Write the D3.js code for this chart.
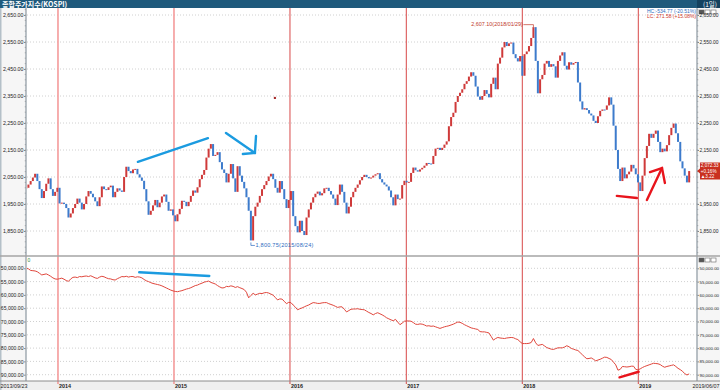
<!DOCTYPE html>
<html>
<head>
<meta charset="utf-8">
<script src="https://cdn.jsdelivr.net/npm/d3@7"></script>
<style>
body { margin: 0; background: #fff; }
svg { display: block; font-family: "Liberation Sans", Arial, sans-serif; }
</style>
</head>
<body>
<svg id="chart" width="720" height="390"></svg>
<script>
// weekly closes, KOSPI (first week 2013/09/23)
var startDate = "2013-09-23", endDate = "2019-06-07";
var kospi = [
  2010,2022,2035,2048,2062,2035,2005,1972,1998,2025,
  2045,2005,1980,1995,2010,1952,1955,1950,1935,1900,
  1915,1935,1950,1970,1955,1930,1950,1978,1998,1988,
  1975,1960,1942,1975,2015,2005,2002,2012,2018,1975,
  1995,2008,2000,1995,2050,2088,2072,2064,2078,2080,
  2060,2048,2036,2005,1960,1910,1925,1945,1965,1938,
  1955,1978,1985,1958,1925,1930,1908,1886,1912,1932,
  1962,1958,1942,1958,1980,2000,1992,2012,2042,2058,
  2076,2122,2155,2172,2128,2132,2142,2105,2078,2065,
  2030,2062,2098,2045,1995,2090,2055,2032,2008,1975,
  1925,1815,1905,1940,1955,1980,2005,2020,2035,2052,
  2062,2042,2010,1992,2035,2005,1968,1935,1965,1998,
  1905,1868,1845,1888,1850,1835,1900,1930,1955,1975,
  1988,1996,1982,1990,2008,2010,1998,1985,1970,1946,
  1985,2022,1995,1955,1915,1940,1975,1995,2010,2022,
  2038,2050,2058,2050,2045,2048,2055,2060,2064,2042,
  2030,2022,2015,2000,1975,1945,1985,1968,1970,2020,
  2036,2030,2032,2065,2085,2075,2070,2078,2084,2092,
  2102,2100,2098,2128,2155,2158,2150,2158,2170,2182,
  2238,2272,2288,2328,2350,2362,2375,2395,2405,2422,
  2438,2425,2385,2348,2336,2350,2372,2358,2345,2395,
  2418,2375,2470,2492,2530,2550,2535,2545,2548,2505,
  2490,2478,2498,2425,2505,2515,2535,2565,2605,2480,
  2360,2412,2428,2470,2480,2458,2468,2460,2418,2480,
  2500,2512,2462,2448,2475,2466,2472,2476,2400,2330,
  2300,2305,2298,2285,2278,2258,2250,2275,2295,2300,
  2299,2315,2345,2318,2240,2150,2080,2035,2085,2045,
  2060,2070,2095,2082,2060,2030,1998,2055,2120,2165,
  2210,2195,2210,2222,2180,2142,2155,2145,2168,2205,
  2232,2248,2212,2180,2108,2082,2055,2030,2072
];
// lower panel, thousands, same weeks (axis runs downward: 50,000 at top)
var flowK = [
  50.0,50.2,50.8,50.9,51.0,51.3,51.9,52.5,52.3,52.1,
  52.5,53.0,53.6,54.0,54.1,53.9,53.7,54.1,54.6,54.9,
  54.0,53.4,53.3,53.5,53.1,53.2,53.0,52.9,53.1,52.8,
  53.2,53.6,53.8,53.3,53.0,53.2,53.6,53.9,54.0,54.3,
  54.4,53.9,53.5,53.1,53.2,53.0,53.3,53.1,53.1,53.4,
  53.2,53.3,53.6,54.2,54.7,55.0,55.4,55.7,55.9,56.1,
  56.3,56.6,57.0,57.4,57.8,58.2,58.5,58.7,58.8,58.6,
  58.4,58.1,57.8,57.6,57.3,56.9,56.5,56.3,55.9,55.6,
  55.2,55.0,54.8,55.3,55.6,55.9,56.5,57.0,57.4,57.3,
  56.8,56.9,56.6,56.8,57.2,56.9,57.3,57.6,58.0,59.0,
  61.1,60.2,59.4,60.0,59.7,59.4,59.5,59.2,59.1,59.3,
  59.7,60.1,61.0,61.9,61.5,61.6,62.4,63.3,62.8,62.9,
  63.8,64.6,65.6,65.2,64.9,64.5,64.1,63.8,63.3,62.9,
  63.0,63.2,63.2,63.0,62.9,62.9,63.3,63.6,63.9,64.3,
  64.7,64.5,64.5,65.4,66.4,65.9,65.4,65.3,65.3,65.2,
  65.4,65.5,65.6,66.1,66.6,67.0,67.5,67.0,66.7,67.1,
  67.5,68.0,68.6,69.0,69.4,69.7,69.2,70.2,71.2,70.6,
  69.9,69.8,69.8,69.9,70.4,71.0,71.1,70.9,71.0,71.3,
  71.7,71.6,71.8,71.7,72.0,72.3,72.6,72.3,72.0,71.8,
  71.6,71.3,71.0,70.6,70.2,70.3,70.7,71.2,71.6,72.0,
  72.4,72.6,72.8,73.0,73.8,73.9,73.9,74.1,74.3,75.6,
  77.0,76.4,76.0,76.2,76.3,76.4,76.2,76.1,76.0,76.1,
  76.5,76.8,77.6,78.3,78.3,78.3,78.2,77.9,76.4,78.0,
  79.0,78.8,78.6,79.2,79.8,80.1,80.4,80.5,80.2,79.9,
  79.9,79.9,79.6,79.1,79.5,80.1,80.4,80.7,80.9,81.7,
  82.5,83.3,84.0,83.9,83.7,84.2,84.8,84.5,84.2,83.8,
  83.4,83.5,83.9,84.3,85.3,86.3,88.3,88.0,86.9,87.0,
  87.1,87.0,86.8,86.8,88.0,88.2,87.8,87.3,86.9,86.6,
  86.3,86.0,85.7,85.8,85.9,86.2,86.8,87.2,86.9,86.7,
  86.5,86.3,86.9,87.6,88.1,88.7,89.6,90.1,89.7
];
var years = ["2014", "2015", "2016", "2017", "2018", "2019"];
var priceTicks = [1850, 1950, 2050, 2150, 2250, 2350, 2450, 2550, 2650];
var flowTicks = [50, 55, 60, 65, 70, 75, 80, 85, 90];

var title = "종합주가지수(KOSPI)", period = "(1일)";
var hiLabel = "2,607.10(2018/01/29)", loLabel = "1,800.75(2015/08/24)";
var hcText = "HC:-534.77 (-20.51%)", lcText = "LC: 271.58 (+15.08%)";
var tagLines = ["2,072.33", "+0.16%", "▲3.22"];

// hand drawn marks on the chart, [week, value]
var blueTrendTop = [[50.2, 2106], [81.7, 2194]];
var blueArrow = [[89.8, 2213], [102.8, 2139]];
var blueArrowHead = [[103.3, 2202], [102.8, 2139], [97.4, 2135]];
var redTrendTop = [[265.5, 1980], [274.5, 1972]];
var redArrow = [[279.0, 1965], [285.8, 2083]];
var redArrowHead = [[280.4, 2068], [285.8, 2083], [287.1, 2028]];
var blueTrendLow = [[50.8, 51.5], [82.3, 52.9]];
var redTrendLow = [[266.7, 91.0], [275.3, 88.9]];
var strayDot = [111.8, 2343];

var svg = d3.select("#chart");
var plotL = 26, plotR = 697, topY0 = 8, topY1 = 256, botY0 = 257, botY1 = 381;

var parse = d3.timeParse("%Y-%m-%d");
var start = parse(startDate), end = parse(endDate);
var dates = kospi.map(function(d, i) { return d3.timeDay.offset(start, i * 7); });

var x = d3.scaleTime().domain([start, end]).range([26.2, 688.2]);
var yP = d3.scaleLinear().domain([1850, 2650]).range([231, 15]);
var yF = d3.scaleLinear().domain([50, 90]).range([268.3, 374.7]);
var xw = function(w) { return x(new Date(start.getTime() + w * 7 * 864e5)); };

var fmt = d3.format(",.2f");
var lastY = yP(kospi[kospi.length - 1]);

// backgrounds
svg.append("rect").attr("width", 720).attr("height", 390).attr("fill", "#fff");
svg.append("rect").attr("x", 0).attr("y", 0).attr("width", plotL).attr("height", 390).attr("fill", "#f6f6f6");
svg.append("rect").attr("x", plotR).attr("y", 0).attr("width", 720 - plotR).attr("height", 390).attr("fill", "#f6f6f6");
svg.append("rect").attr("x", 0).attr("y", botY1).attr("width", 720).attr("height", 390 - botY1).attr("fill", "#efefef");
svg.append("rect").attr("x", 0).attr("y", 0).attr("width", 1.5).attr("height", 390).attr("fill", "#b4c0c8");

// title bar
svg.append("rect").attr("width", 720).attr("height", topY0).attr("fill", "#1f5a7c");
svg.append("rect").attr("x", plotR).attr("width", 720 - plotR).attr("height", topY0).attr("fill", "#14425f");
svg.append("text").attr("x", 2).attr("y", 6.6).attr("fill", "#fff")
    .attr("font-size", "7px").attr("font-weight", "bold")
    .attr("font-family", "'Noto Sans CJK KR', sans-serif").text(title);
svg.append("text").attr("x", 703).attr("y", 6.6).attr("fill", "#fff")
    .attr("font-size", "6.5px").attr("font-family", "'Noto Sans CJK KR', sans-serif").text(period);

// small toolbar squares on the right strip
[10, 258].forEach(function(ty) {
    [699, 705, 711].forEach(function(tx, k) {
        svg.append("rect").attr("x", tx).attr("y", ty).attr("width", 5).attr("height", 4)
            .attr("fill", k == 0 ? "#555" : "#fff").attr("stroke", "#666").attr("stroke-width", 0.6);
    });
});

var defs = svg.append("defs");
defs.append("clipPath").attr("id", "clipTop").append("rect")
    .attr("x", plotL + 1).attr("y", topY0).attr("width", plotR - plotL - 1).attr("height", topY1 - topY0);
defs.append("clipPath").attr("id", "clipBot").append("rect")
    .attr("x", plotL + 1).attr("y", botY0).attr("width", plotR - plotL - 1).attr("height", botY1 - botY0);

// gridlines
var grid = svg.append("g").attr("stroke", "#c4c4c4").attr("stroke-dasharray", "1,2").attr("stroke-width", 0.8);
grid.selectAll("line.p").data(priceTicks).join("line")
    .attr("x1", plotL + 1).attr("x2", plotR).attr("y1", function(d) { return yP(d); }).attr("y2", function(d) { return yP(d); });
grid.selectAll("line.f").data(flowTicks).join("line")
    .attr("x1", plotL + 1).attr("x2", plotR).attr("y1", function(d) { return yF(d); }).attr("y2", function(d) { return yF(d); });

// year separators
var yearDates = years.map(function(y) { return parse(y + "-01-01"); });
svg.append("g").selectAll("line").data(yearDates).join("line")
    .attr("x1", function(d) { return x(d); }).attr("x2", function(d) { return x(d); })
    .attr("y1", topY0).attr("y2", 384)
    .attr("stroke", function(d, i) { return i < 2 ? "#f49a9a" : "#d84848"; })
    .attr("stroke-width", function(d, i) { return i < 2 ? 1.6 : 1; });

// candles (open = previous close)
var candles = kospi.map(function(c, i) {
    return {date: dates[i], open: i ? kospi[i - 1] : c, close: c};
});
svg.append("g").attr("clip-path", "url(#clipTop)")
    .selectAll("rect").data(candles).join("rect")
    .attr("x", function(d) { return x(d.date) - 1; })
    .attr("width", 2)
    .attr("y", function(d) { return yP(Math.max(d.open, d.close)); })
    .attr("height", function(d) { return Math.max(1, Math.abs(yP(d.open) - yP(d.close))); })
    .attr("fill", function(d) { return d.close >= d.open ? "#cf3a3a" : "#3d7bcc"; });

// lower panel line
svg.append("path").datum(flowK).attr("clip-path", "url(#clipBot)")
    .attr("fill", "none").attr("stroke", "#e0463c").attr("stroke-width", 1)
    .attr("d", d3.line().x(function(d, i) { return x(dates[i]); }).y(function(d) { return yF(d); }));

// high / low labels
var iMax = d3.maxIndex(kospi), iMin = d3.minIndex(kospi);
var mx = x(dates[iMax]), my = yP(kospi[iMax]);
svg.append("path").attr("d", "M" + mx + "," + my + "V" + (my - 2.5) + "H" + (mx - 10))
    .attr("fill", "none").attr("stroke", "#c0392b").attr("stroke-width", 0.7);
svg.append("text").attr("x", mx - 10.5).attr("y", my - 0.8).attr("text-anchor", "end")
    .attr("fill", "#c0392b").attr("font-size", "5.4px").text(hiLabel);
var lx = x(dates[iMin]), ly = yP(kospi[iMin]);
svg.append("path").attr("d", "M" + lx + "," + (ly + 2) + "V" + (ly + 5) + "H" + (lx + 4))
    .attr("fill", "none").attr("stroke", "#2d6cc0").attr("stroke-width", 0.7);
svg.append("text").attr("x", lx + 4.5).attr("y", ly + 7).attr("fill", "#2d6cc0")
    .attr("font-size", "5.6px").attr("textLength", 58).text(loLabel);

// HC / LC info
svg.append("text").attr("x", 647).attr("y", 13).attr("fill", "#2d6cc0").attr("font-size", "5px").text(hcText);
svg.append("text").attr("x", 647).attr("y", 18).attr("fill", "#d0392b").attr("font-size", "5px").text(lcText);

// hand drawn annotations
var lineTop = d3.line().x(function(d) { return xw(d[0]); }).y(function(d) { return yP(d[1]); });
var lineBot = d3.line().x(function(d) { return xw(d[0]); }).y(function(d) { return yF(d[1]); });
var ann = svg.append("g").attr("fill", "none").attr("stroke-width", 2.4).attr("stroke-linecap", "round");
ann.append("path").attr("d", lineTop(blueTrendTop)).attr("stroke", "#1b9be0");
ann.append("path").attr("d", lineTop(blueArrow)).attr("stroke", "#1b9be0");
ann.append("path").attr("d", lineTop(blueArrowHead)).attr("stroke", "#1b9be0");
ann.append("path").attr("d", lineTop(redTrendTop)).attr("stroke", "#e8141c");
ann.append("path").attr("d", lineTop(redArrow)).attr("stroke", "#e8141c");
ann.append("path").attr("d", lineTop(redArrowHead)).attr("stroke", "#e8141c");
ann.append("path").attr("d", lineBot(blueTrendLow)).attr("stroke", "#1b9be0");
ann.append("path").attr("d", lineBot(redTrendLow)).attr("stroke", "#e8141c");
svg.append("circle").attr("cx", xw(strayDot[0])).attr("cy", yP(strayDot[1])).attr("r", 1.2).attr("fill", "#a52a2a");

// axes
function styleAxis(size) {
    return function(g) {
        g.attr("font-family", null).attr("font-size", size + "px");
        g.select(".domain").remove();
        g.selectAll("text").attr("fill", "#222");
        g.selectAll("line").attr("stroke", "#444").attr("stroke-width", 0.6);
    };
}
svg.append("g").attr("transform", "translate(" + plotL + ",0)")
    .call(d3.axisLeft(yP).tickValues(priceTicks).tickFormat(fmt).tickSize(2).tickPadding(0.5)).call(styleAxis(5.3));
// right price labels, skipping the one hidden under the price tag
svg.append("g").attr("transform", "translate(" + plotR + ",0)")
    .call(d3.axisRight(yP).tickValues(priceTicks.filter(function(v) { return Math.abs(yP(v) - lastY) > 9; }))
        .tickFormat(fmt).tickSize(2).tickPadding(0.5)).call(styleAxis(4.9));
svg.append("g").attr("transform", "translate(" + plotL + ",0)")
    .call(d3.axisLeft(yF).tickValues(flowTicks).tickFormat(function(d) { return fmt(d * 1000); }).tickSize(2).tickPadding(0.5)).call(styleAxis(5.1));
svg.append("g").attr("transform", "translate(" + plotR + ",0)")
    .call(d3.axisRight(yF).tickValues(flowTicks).tickFormat(function(d) { return fmt(d * 1000); }).tickSize(2).tickPadding(0.5)).call(styleAxis(4.4));
// minor ticks
[plotL, plotR].forEach(function(ax, k) {
    svg.append("g").selectAll("line").data(d3.range(1770, 2680, 20)).join("line")
        .attr("x1", ax).attr("x2", ax + (k ? 1.2 : -1.2))
        .attr("y1", function(d) { return yP(d); }).attr("y2", function(d) { return yP(d); })
        .attr("stroke", "#555").attr("stroke-width", 0.6);
});

// frame lines
svg.append("line").attr("x1", plotL).attr("x2", plotL).attr("y1", topY0).attr("y2", botY1).attr("stroke", "#9ca6ae").attr("stroke-width", 1.4);
svg.append("line").attr("x1", plotR).attr("x2", plotR).attr("y1", topY0).attr("y2", botY1).attr("stroke", "#9ca6ae").attr("stroke-width", 1.4);
svg.append("line").attr("x1", 0).attr("x2", 720).attr("y1", topY1).attr("y2", topY1).attr("stroke", "#a4a4a4").attr("stroke-width", 1.5);
svg.append("line").attr("x1", 0).attr("x2", 720).attr("y1", botY1).attr("y2", botY1).attr("stroke", "#8c8c8c").attr("stroke-width", 1);
svg.append("text").attr("x", 27.5).attr("y", 261.5).attr("fill", "#2e8b3a").attr("font-size", "5px").text("0");

// x labels
var xl = svg.append("g").attr("font-size", "5.4px").attr("fill", "#222");
xl.selectAll("text").data(yearDates).join("text")
    .attr("x", function(d) { return x(d) + 1; }).attr("y", 387.5).attr("font-weight", "bold")
    .text(function(d, i) { return years[i]; });
xl.append("text").attr("x", 0.5).attr("y", 387.5).text(startDate.replace(/-/g, "/"));
xl.append("text").attr("x", 719.5).attr("y", 387.5).attr("text-anchor", "end").text(endDate.replace(/-/g, "/"));

// last price tag
svg.append("path").attr("d", "M697," + lastY + "L700," + (lastY - 2.5) + "V" + (lastY - 8.5) + "H720V" + (lastY + 8.5) + "H700V" + (lastY + 2.5) + "Z")
    .attr("fill", "#c9301f");
svg.append("g").selectAll("text").data(tagLines).join("text")
    .attr("x", 700.8).attr("y", function(d, i) { return lastY - 3.6 + i * 5.4; })
    .attr("fill", "#fff").attr("font-size", "4.6px").text(function(d) { return d; });
</script>
</body>
</html>
